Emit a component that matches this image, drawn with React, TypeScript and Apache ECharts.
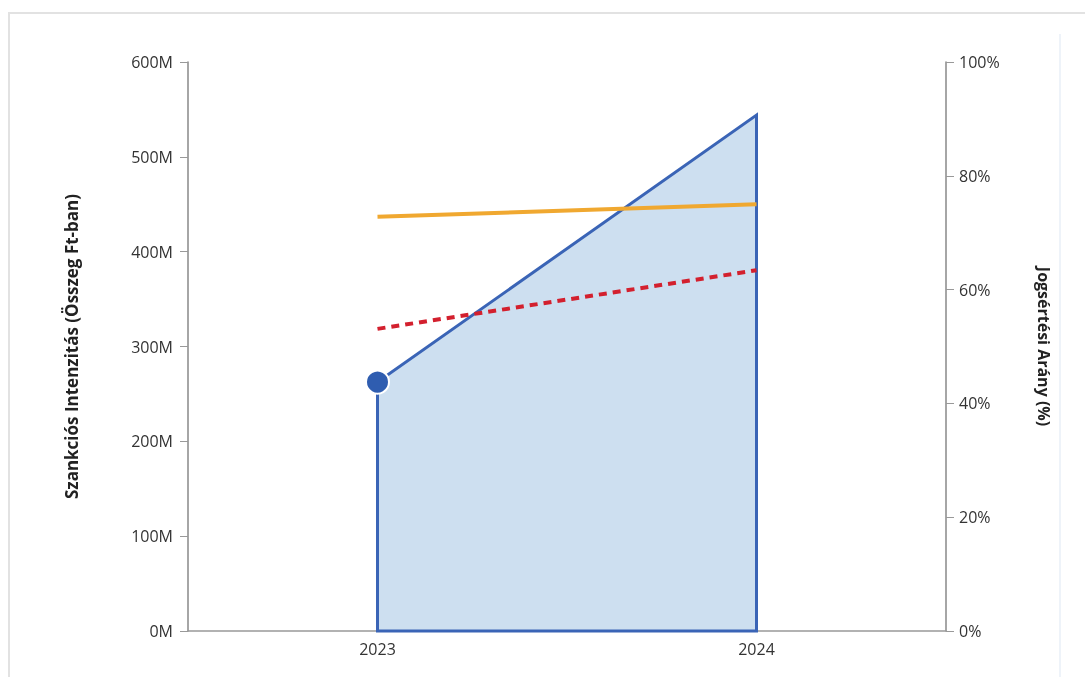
import React, { useEffect, useRef } from "react";
import * as echarts from "echarts";

const years = ["2023", "2024"];
const sanctionIntensity = [262.5e6, 544e6];
const violationRate = [72.8, 75.0];
const violationTrend = [53.1, 63.4];
const leftTicksMax = 600e6;
const rightTicksMax = 100;

export default function App() {
  const ref = useRef<HTMLDivElement>(null);
  useEffect(() => {
    const chart = echarts.init(ref.current!, null, { renderer: "svg" });
    const font = "'Open Sans', 'Noto Sans', sans-serif";
    chart.setOption({
      animation: false,
      grid: { left: 188, right: 139, top: 62, bottom: 46 },
      xAxis: {
        type: "category",
        data: years,
        boundaryGap: true,
        axisLine: { lineStyle: { color: "#999", width: 1.5 } },
        axisTick: { alignWithLabel: true, length: 6, lineStyle: { color: "#ddd", width: 2 } },
        axisLabel: { color: "#333", fontSize: 16, fontFamily: font, margin: 10 },
      },
      yAxis: [
        {
          type: "value",
          min: 0,
          max: leftTicksMax,
          interval: 100e6,
          position: "left",
          name: "Szankciós Intenzitás (Összeg Ft-ban)",
          nameLocation: "middle",
          nameRotate: 90,
          nameGap: 108,
          nameTextStyle: { color: "#222", fontSize: 17, fontWeight: "bold", fontFamily: font },
          axisLine: { show: true, lineStyle: { color: "#888", width: 1.5 } },
          axisTick: { show: true, length: 8, lineStyle: { color: "#999" } },
          axisLabel: {
            color: "#333",
            fontSize: 16,
            fontFamily: font,
            margin: 15,
            formatter: (v: number) => `${Math.round(v / 1e6)}M`,
          },
          splitLine: { show: false },
        },
        {
          type: "value",
          min: 0,
          max: rightTicksMax,
          interval: 20,
          position: "right",
          name: "Jogsértési Arány (%)",
          nameLocation: "middle",
          nameRotate: -90,
          nameGap: 90,
          nameTextStyle: { color: "#222", fontSize: 16, fontWeight: "bold", fontFamily: font },
          axisLine: { show: true, lineStyle: { color: "#888", width: 1.5 } },
          axisTick: { show: true, length: 8, lineStyle: { color: "#999" } },
          axisLabel: {
            color: "#333",
            fontSize: 16,
            fontFamily: font,
            margin: 13,
            formatter: (v: number) => `${v}%`,
          },
          splitLine: { show: false },
        },
      ],
      series: [
        {
          type: "custom",
          name: "Szankciós Intenzitás",
          yAxisIndex: 0,
          z: 2,
          data: sanctionIntensity.map((v, i) => [i, v]),
          renderItem: (params: any, api: any) => {
            if (params.dataIndex !== 0) return null;
            const pts: number[][] = [];
            pts.push(api.coord([0, 0]));
            sanctionIntensity.forEach((v, i) => pts.push(api.coord([i, v])));
            pts.push(api.coord([sanctionIntensity.length - 1, 0]));
            return {
              type: "polygon",
              shape: { points: pts },
              style: { fill: "#cddff0", stroke: "#3a64b6", lineWidth: 3, lineJoin: "miter" },
            };
          },
        },
        {
          type: "scatter",
          yAxisIndex: 0,
          z: 5,
          data: [[0, sanctionIntensity[0]]],
          symbolSize: 23,
          itemStyle: { color: "#2f5db0", borderColor: "#fff", borderWidth: 2, opacity: 1 },
        },
        {
          type: "line",
          name: "Jogsértési Arány",
          yAxisIndex: 1,
          z: 4,
          data: violationRate,
          showSymbol: false,
          symbol: "none",
          lineStyle: { color: "#f0a830", width: 4 },
        },
        {
          type: "line",
          name: "Trend",
          yAxisIndex: 1,
          z: 4,
          data: violationTrend,
          showSymbol: false,
          symbol: "none",
          lineStyle: { color: "#d3202e", width: 4, type: [8, 6] },
        },
      ],
    });
    return () => chart.dispose();
  }, []);
  return (
    <div>
      <div
        style={{
          position: "fixed",
          left: 8,
          top: 12,
          width: 1200,
          height: 800,
          borderTop: "2px solid #e2e2e2",
          borderLeft: "2px solid #e2e2e2",
          boxSizing: "border-box",
        }}
      />
      <div
        style={{
          position: "fixed",
          left: 1059,
          top: 34,
          width: 2,
          height: 700,
          background: "#eef3f9",
        }}
      />
      <div
        ref={ref}
        style={{ position: "fixed", left: 0, top: 0, width: 1085, height: 677 }}
      />
    </div>
  );
}
